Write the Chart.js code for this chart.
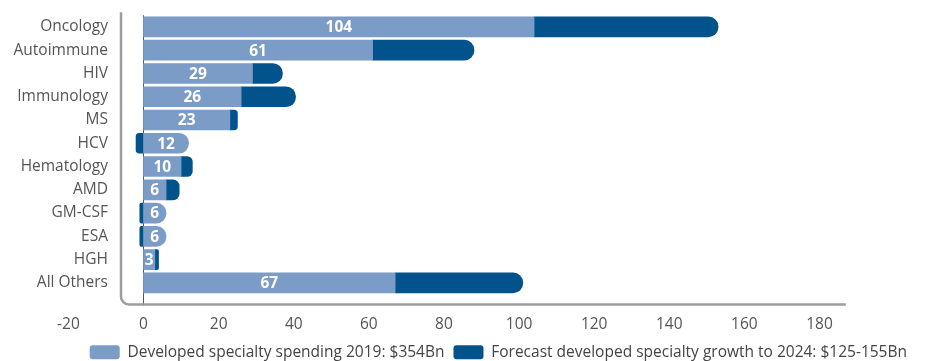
<!DOCTYPE html>
<html>
<head>
<meta charset="utf-8">
<script src="https://cdn.jsdelivr.net/npm/chart.js@4.4.1/dist/chart.umd.min.js"></script>
<style>
  html, body { margin: 0; padding: 0; background: #fff; }
  #wrap { width: 933px; height: 361px; }
</style>
</head>
<body>
<div id="wrap"><canvas id="specialtyChart"></canvas></div>
<script>
"use strict";

// spending by therapy area, $Bn
var therapyAreas = ["Oncology", "Autoimmune", "HIV", "Immunology", "MS", "HCV", "Hematology", "AMD", "GM-CSF", "ESA", "HGH", "All Others"];
var spending2019 = [104, 61, 29, 26, 23, 12, 10, 6, 6, 6, 3, 67];
var growthTo2024 = [49, 27, 8, 14.5, 2, -2, 3, 3.5, -1, -1, 1, 34];
var xTickValues = [-20, 0, 20, 40, 60, 80, 100, 120, 140, 160, 180];
var legendLabels = [
  "Developed specialty spending 2019: $354Bn",
  "Forecast developed specialty growth to 2024: $125-155Bn"
];

var lightBlue = "#7a9cc6";
var darkBlue = "#02538c";
var frameEndValue = 187;
var fontSize = 15.5;

Chart.defaults.font.family = "'Open Sans', sans-serif";

// grey rounded frame on the left/bottom + the zero line
var axisFrame = {
  id: "axisFrame",
  beforeDatasetsDraw: function (chart) {
    var ctx = chart.ctx;
    var area = chart.chartArea;
    var xs = chart.scales.x;
    var left = area.left;
    var bottom = area.bottom + 10;
    var right = xs.getPixelForValue(frameEndValue);
    var r = 8;
    var x0 = Math.round(xs.getPixelForValue(0)) - 0.5;

    ctx.save();
    ctx.strokeStyle = "#555";
    ctx.lineWidth = 1;
    ctx.beginPath();
    ctx.moveTo(x0, area.top);
    ctx.lineTo(x0, bottom + 1);
    ctx.stroke();

    ctx.strokeStyle = "#9d9d9d";
    ctx.lineWidth = 2.5;
    ctx.beginPath();
    ctx.moveTo(left, area.top - 3);
    ctx.lineTo(left, bottom - r);
    ctx.arcTo(left, bottom, left + r, bottom, r);
    ctx.lineTo(right, bottom);
    ctx.stroke();
    ctx.restore();
  }
};

// 2019 values written inside the light bars
var valueLabels = {
  id: "valueLabels",
  afterDatasetsDraw: function (chart) {
    var ctx = chart.ctx;
    var meta = chart.getDatasetMeta(0);
    ctx.save();
    ctx.font = "bold " + fontSize + "px 'Open Sans', sans-serif";
    ctx.fillStyle = "#fff";
    ctx.textAlign = "center";
    ctx.textBaseline = "middle";
    meta.data.forEach(function (bar, i) {
      var p = bar.getProps(["x", "y", "base"], true);
      ctx.fillText(spending2019[i], (p.x + p.base) / 2, p.y + 1);
    });
    ctx.restore();
  }
};

new Chart(document.getElementById("specialtyChart"), {
  type: "bar",
  data: {
    labels: therapyAreas,
    datasets: [
      {
        label: legendLabels[0],
        data: spending2019,
        backgroundColor: lightBlue,
        borderRadius: 10,
        borderSkipped: "start",
        barThickness: 20,
      },
      {
        label: legendLabels[1],
        data: growthTo2024,
        backgroundColor: darkBlue,
        borderRadius: 10,
        borderSkipped: "start",
        barThickness: 20,
      },
    ],
  },
  options: {
    indexAxis: "y",
    responsive: true,
    maintainAspectRatio: false,
    animation: false,
    layout: {
      padding: { left: 0, right: 17, top: 0, bottom: -9 },
    },
    scales: {
      x: {
        stacked: true,
        min: -6,
        max: 205.7,
        grid: { display: false, drawTicks: false },
        border: { display: false },
        afterBuildTicks: function (axis) {
          axis.ticks = xTickValues.map(function (v) {
            return { value: v };
          });
        },
        afterFit: function (axis) {
          axis.height = 41;
        },
        ticks: {
          color: "#555",
          font: { size: fontSize },
          padding: 21,
          autoSkip: false,
          maxRotation: 0,
        },
      },
      y: {
        stacked: true,
        grid: { display: false, drawTicks: true, tickLength: 7 },
        border: { display: false },
        afterFit: function (axis) {
          axis.width = 121;
        },
        ticks: {
          color: "#555",
          font: { size: fontSize },
          padding: 6,
          autoSkip: false,
        },
      },
    },
    plugins: {
      legend: {
        position: "bottom",
        align: "end",
        labels: {
          color: "#444",
          font: { size: fontSize },
          boxWidth: 30,
          boxHeight: 14,
          padding: 9,
          useBorderRadius: true,
          borderRadius: 3,
        },
      },
      tooltip: { enabled: false },
    },
  },
  plugins: [axisFrame, valueLabels],
});
</script>
</body>
</html>
